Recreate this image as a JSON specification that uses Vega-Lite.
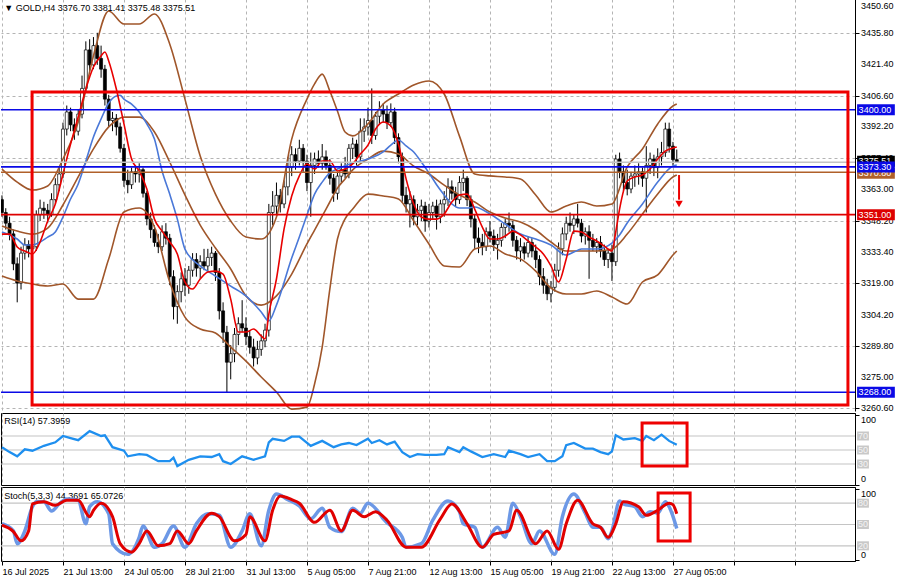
{
"$schema": "https://vega.github.io/schema/vega-lite/v6.json",
"padding": {"left": -6, "top": -2, "right": 0, "bottom": 0},
"background": "white",
"spacing": 2,
"bounds": "flush",
"config": {
  "font": "Liberation Sans",
  "view": {"stroke": "#000", "strokeWidth": 1},
  "scale": {"continuousPadding": 0},
  "axis": {"labelFont": "Liberation Sans", "labelFontSize": 9, "labelColor": "#000", "domainColor": "#000", "tickColor": "#000", "gridColor": "#b4b4b4", "gridDash": [3, 3], "gridWidth": 1, "labelOverlap": false},
  "text": {"font": "Liberation Sans", "fontSize": 9}
},
"datasets": {
  "candles": [
{"i":0,"o":3358,"h":3360,"l":3350,"c":3352},{"i":1,"o":3352,"h":3354,"l":3344,"c":3347},{"i":2,"o":3347,"h":3350,"l":3339,"c":3342},{"i":3,"o":3342,"h":3344,"l":3325,"c":3328},{"i":4,"o":3328,"h":3331,"l":3310,"c":3319},{"i":5,"o":3319,"h":3336,"l":3316,"c":3333},{"i":6,"o":3333,"h":3340,"l":3330,"c":3337},{"i":7,"o":3337,"h":3339,"l":3331,"c":3335},{"i":8,"o":3335,"h":3340,"l":3333,"c":3336},{"i":9,"o":3336,"h":3353,"l":3334,"c":3351},
{"i":10,"o":3351,"h":3358,"l":3348,"c":3354},{"i":11,"o":3354,"h":3357,"l":3349,"c":3353},{"i":12,"o":3353,"h":3356,"l":3347,"c":3351},{"i":13,"o":3351,"h":3361,"l":3350,"c":3358},{"i":14,"o":3358,"h":3368,"l":3356,"c":3365},{"i":15,"o":3365,"h":3373,"l":3362,"c":3370},{"i":16,"o":3370,"h":3394,"l":3368,"c":3391},{"i":17,"o":3391,"h":3402,"l":3388,"c":3399},{"i":18,"o":3399,"h":3401,"l":3390,"c":3393},{"i":19,"o":3393,"h":3396,"l":3386,"c":3390},
{"i":20,"o":3390,"h":3400,"l":3388,"c":3398},{"i":21,"o":3398,"h":3416,"l":3396,"c":3410},{"i":22,"o":3410,"h":3432,"l":3408,"c":3428},{"i":23,"o":3428,"h":3433,"l":3418,"c":3421},{"i":24,"o":3421,"h":3434,"l":3419,"c":3430},{"i":25,"o":3430,"h":3436,"l":3421,"c":3424},{"i":26,"o":3424,"h":3430,"l":3415,"c":3419},{"i":27,"o":3419,"h":3421,"l":3402,"c":3405},{"i":28,"o":3405,"h":3407,"l":3392,"c":3395},{"i":29,"o":3395,"h":3399,"l":3390,"c":3396},
{"i":30,"o":3396,"h":3398,"l":3388,"c":3392},{"i":31,"o":3392,"h":3394,"l":3380,"c":3382},{"i":32,"o":3382,"h":3384,"l":3364,"c":3367},{"i":33,"o":3367,"h":3372,"l":3361,"c":3365},{"i":34,"o":3365,"h":3373,"l":3363,"c":3371},{"i":35,"o":3371,"h":3374,"l":3366,"c":3370},{"i":36,"o":3370,"h":3375,"l":3366,"c":3372},{"i":37,"o":3372,"h":3373,"l":3359,"c":3361},{"i":38,"o":3361,"h":3362,"l":3346,"c":3349},{"i":39,"o":3349,"h":3352,"l":3340,"c":3344},
{"i":40,"o":3344,"h":3346,"l":3336,"c":3338},{"i":41,"o":3338,"h":3342,"l":3333,"c":3336},{"i":42,"o":3336,"h":3346,"l":3334,"c":3343},{"i":43,"o":3343,"h":3347,"l":3337,"c":3340},{"i":44,"o":3340,"h":3342,"l":3318,"c":3322},{"i":45,"o":3322,"h":3325,"l":3302,"c":3308},{"i":46,"o":3308,"h":3318,"l":3300,"c":3315},{"i":47,"o":3315,"h":3324,"l":3310,"c":3321},{"i":48,"o":3321,"h":3326,"l":3313,"c":3318},{"i":49,"o":3318,"h":3327,"l":3314,"c":3325},
{"i":50,"o":3325,"h":3333,"l":3322,"c":3330},{"i":51,"o":3330,"h":3333,"l":3322,"c":3326},{"i":52,"o":3326,"h":3332,"l":3321,"c":3329},{"i":53,"o":3329,"h":3335,"l":3325,"c":3327},{"i":54,"o":3327,"h":3335,"l":3324,"c":3331},{"i":55,"o":3331,"h":3336,"l":3327,"c":3333},{"i":56,"o":3333,"h":3334,"l":3320,"c":3324},{"i":57,"o":3324,"h":3326,"l":3302,"c":3306},{"i":58,"o":3306,"h":3310,"l":3291,"c":3296},{"i":59,"o":3296,"h":3299,"l":3268,"c":3282},
{"i":60,"o":3282,"h":3290,"l":3274,"c":3286},{"i":61,"o":3286,"h":3298,"l":3282,"c":3295},{"i":62,"o":3295,"h":3303,"l":3290,"c":3300},{"i":63,"o":3300,"h":3311,"l":3296,"c":3298},{"i":64,"o":3298,"h":3303,"l":3290,"c":3294},{"i":65,"o":3294,"h":3297,"l":3286,"c":3289},{"i":66,"o":3289,"h":3293,"l":3280,"c":3284},{"i":67,"o":3284,"h":3292,"l":3281,"c":3288},{"i":68,"o":3288,"h":3295,"l":3285,"c":3292},{"i":69,"o":3292,"h":3300,"l":3289,"c":3297},
{"i":70,"o":3297,"h":3356,"l":3294,"c":3352},{"i":71,"o":3352,"h":3362,"l":3346,"c":3355},{"i":72,"o":3355,"h":3366,"l":3351,"c":3360},{"i":73,"o":3360,"h":3363,"l":3352,"c":3356},{"i":74,"o":3356,"h":3367,"l":3354,"c":3364},{"i":75,"o":3364,"h":3378,"l":3360,"c":3373},{"i":76,"o":3373,"h":3383,"l":3369,"c":3379},{"i":77,"o":3379,"h":3382,"l":3372,"c":3376},{"i":78,"o":3376,"h":3386,"l":3374,"c":3382},{"i":79,"o":3382,"h":3384,"l":3371,"c":3376},
{"i":80,"o":3376,"h":3379,"l":3362,"c":3366},{"i":81,"o":3366,"h":3380,"l":3350,"c":3374},{"i":82,"o":3374,"h":3380,"l":3370,"c":3377},{"i":83,"o":3377,"h":3381,"l":3373,"c":3375},{"i":84,"o":3375,"h":3384,"l":3372,"c":3378},{"i":85,"o":3378,"h":3381,"l":3372,"c":3374},{"i":86,"o":3374,"h":3377,"l":3365,"c":3368},{"i":87,"o":3368,"h":3370,"l":3357,"c":3361},{"i":88,"o":3361,"h":3371,"l":3358,"c":3369},{"i":89,"o":3369,"h":3375,"l":3366,"c":3372},
{"i":90,"o":3372,"h":3378,"l":3368,"c":3370},{"i":91,"o":3370,"h":3384,"l":3368,"c":3382},{"i":92,"o":3382,"h":3387,"l":3377,"c":3384},{"i":93,"o":3384,"h":3386,"l":3374,"c":3378},{"i":94,"o":3378,"h":3396,"l":3376,"c":3390},{"i":95,"o":3390,"h":3396,"l":3385,"c":3392},{"i":96,"o":3392,"h":3401,"l":3388,"c":3395},{"i":97,"o":3395,"h":3410,"l":3384,"c":3388},{"i":98,"o":3388,"h":3399,"l":3386,"c":3397},{"i":99,"o":3397,"h":3404,"l":3393,"c":3400},
{"i":100,"o":3400,"h":3403,"l":3394,"c":3398},{"i":101,"o":3398,"h":3402,"l":3391,"c":3394},{"i":102,"o":3394,"h":3403,"l":3392,"c":3399},{"i":103,"o":3399,"h":3401,"l":3384,"c":3387},{"i":104,"o":3387,"h":3389,"l":3375,"c":3378},{"i":105,"o":3378,"h":3380,"l":3357,"c":3360},{"i":106,"o":3360,"h":3364,"l":3352,"c":3356},{"i":107,"o":3356,"h":3362,"l":3345,"c":3358},{"i":108,"o":3358,"h":3360,"l":3346,"c":3350},{"i":109,"o":3350,"h":3356,"l":3346,"c":3353},
{"i":110,"o":3353,"h":3358,"l":3348,"c":3355},{"i":111,"o":3355,"h":3357,"l":3343,"c":3348},{"i":112,"o":3348,"h":3356,"l":3345,"c":3352},{"i":113,"o":3352,"h":3357,"l":3349,"c":3355},{"i":114,"o":3355,"h":3358,"l":3344,"c":3350},{"i":115,"o":3350,"h":3358,"l":3347,"c":3356},{"i":116,"o":3356,"h":3362,"l":3350,"c":3358},{"i":117,"o":3358,"h":3368,"l":3355,"c":3364},{"i":118,"o":3364,"h":3367,"l":3358,"c":3361},{"i":119,"o":3361,"h":3364,"l":3355,"c":3358},
{"i":120,"o":3358,"h":3369,"l":3356,"c":3366},{"i":121,"o":3366,"h":3372,"l":3362,"c":3368},{"i":122,"o":3368,"h":3369,"l":3355,"c":3358},{"i":123,"o":3358,"h":3360,"l":3345,"c":3349},{"i":124,"o":3349,"h":3351,"l":3335,"c":3340},{"i":125,"o":3340,"h":3345,"l":3333,"c":3338},{"i":126,"o":3338,"h":3342,"l":3332,"c":3336},{"i":127,"o":3336,"h":3345,"l":3334,"c":3343},{"i":128,"o":3343,"h":3348,"l":3338,"c":3341},{"i":129,"o":3341,"h":3344,"l":3334,"c":3337},
{"i":130,"o":3337,"h":3342,"l":3330,"c":3339},{"i":131,"o":3339,"h":3347,"l":3336,"c":3345},{"i":132,"o":3345,"h":3349,"l":3340,"c":3347},{"i":133,"o":3347,"h":3352,"l":3343,"c":3346},{"i":134,"o":3346,"h":3348,"l":3336,"c":3339},{"i":135,"o":3339,"h":3341,"l":3330,"c":3334},{"i":136,"o":3334,"h":3340,"l":3329,"c":3336},{"i":137,"o":3336,"h":3338,"l":3330,"c":3333},{"i":138,"o":3333,"h":3341,"l":3331,"c":3338},{"i":139,"o":3338,"h":3340,"l":3331,"c":3334},
{"i":140,"o":3334,"h":3337,"l":3326,"c":3330},{"i":141,"o":3330,"h":3332,"l":3318,"c":3322},{"i":142,"o":3322,"h":3326,"l":3314,"c":3318},{"i":143,"o":3318,"h":3321,"l":3311,"c":3314},{"i":144,"o":3314,"h":3320,"l":3310,"c":3317},{"i":145,"o":3317,"h":3328,"l":3315,"c":3325},{"i":146,"o":3325,"h":3338,"l":3322,"c":3335},{"i":147,"o":3335,"h":3345,"l":3332,"c":3342},{"i":148,"o":3342,"h":3350,"l":3339,"c":3347},{"i":149,"o":3347,"h":3352,"l":3343,"c":3346},
{"i":150,"o":3346,"h":3351,"l":3342,"c":3349},{"i":151,"o":3349,"h":3356,"l":3345,"c":3347},{"i":152,"o":3347,"h":3349,"l":3338,"c":3341},{"i":153,"o":3341,"h":3345,"l":3337,"c":3343},{"i":154,"o":3343,"h":3346,"l":3321,"c":3339},{"i":155,"o":3339,"h":3342,"l":3334,"c":3336},{"i":156,"o":3336,"h":3340,"l":3333,"c":3338},{"i":157,"o":3338,"h":3341,"l":3331,"c":3334},{"i":158,"o":3334,"h":3337,"l":3327,"c":3330},{"i":159,"o":3330,"h":3335,"l":3326,"c":3333},
{"i":160,"o":3333,"h":3337,"l":3320,"c":3329},{"i":161,"o":3329,"h":3379,"l":3327,"c":3377},{"i":162,"o":3377,"h":3380,"l":3368,"c":3371},{"i":163,"o":3371,"h":3374,"l":3362,"c":3366},{"i":164,"o":3366,"h":3372,"l":3360,"c":3363},{"i":165,"o":3363,"h":3371,"l":3361,"c":3369},{"i":166,"o":3369,"h":3374,"l":3364,"c":3370},{"i":167,"o":3370,"h":3375,"l":3365,"c":3371},{"i":168,"o":3371,"h":3373,"l":3364,"c":3368},{"i":169,"o":3368,"h":3383,"l":3352,"c":3374},
{"i":170,"o":3374,"h":3380,"l":3370,"c":3377},{"i":171,"o":3377,"h":3379,"l":3369,"c":3373},{"i":172,"o":3373,"h":3382,"l":3368,"c":3378},{"i":173,"o":3378,"h":3385,"l":3374,"c":3380},{"i":174,"o":3380,"h":3394,"l":3378,"c":3391},{"i":175,"o":3391,"h":3394,"l":3380,"c":3383},{"i":176,"o":3383,"h":3385,"l":3374,"c":3376.7},{"i":177,"o":3376.7,"h":3381.41,"l":3375.48,"c":3375.51}
  ],
  "bb": [
{"i":0,"u":3372.3,"m":3345.7,"lo":3322.3},{"i":4,"u":3366.2,"m":3343.3,"lo":3320.0},{"i":8,"u":3362.5,"m":3341.9,"lo":3318.6},{"i":12,"u":3364.4,"m":3344.7,"lo":3317.6},{"i":16,"u":3377.0,"m":3355.5,"lo":3318.6},{"i":20,"u":3394.3,"m":3368.6,"lo":3311.5},{"i":24,"u":3425.2,"m":3381.7,"lo":3311.5},{"i":28,"u":3446.2,"m":3392.0,"lo":3330.3},{"i":32,"u":3440.1,"m":3396.6,"lo":3352.2},{"i":36,"u":3440.1,"m":3396.6,"lo":3354.1},{"i":40,"u":3444.8,"m":3389.6,"lo":3345.2},{"i":44,"u":3430.8,"m":3375.6,"lo":3319.5},{"i":48,"u":3405.0,"m":3360.2,"lo":3303.1},{"i":52,"u":3378.4,"m":3346.1,"lo":3297.5},{"i":56,"u":3360.6,"m":3335.4,"lo":3295.7},{"i":60,"u":3348.0,"m":3325.6,"lo":3289.1},{"i":64,"u":3340.5,"m":3313.0,"lo":3282.5},{"i":68,"u":3339.6,"m":3308.7,"lo":3275.1},{"i":72,"u":3349.9,"m":3313.0,"lo":3268.1},{"i":76,"u":3386.3,"m":3323.2,"lo":3260.1},{"i":80,"u":3405.0,"m":3337.3,"lo":3261.0},{"i":82,"u":3412.1,"m":3343.8,"lo":3271.8},{"i":84,"u":3416.7,"m":3350.3,"lo":3289.1},{"i":86,"u":3408.8,"m":3356.9,"lo":3316.2},{"i":88,"u":3399.4,"m":3363.4,"lo":3339.6},{"i":90,"u":3389.6,"m":3367.7,"lo":3349.0},{"i":92,"u":3387.8,"m":3371.9,"lo":3353.6},{"i":96,"u":3393.4,"m":3377.0,"lo":3360.6},{"i":100,"u":3402.7,"m":3380.7,"lo":3359.7},{"i":104,"u":3407.4,"m":3379.3,"lo":3358.3},{"i":108,"u":3411.6,"m":3373.7,"lo":3348.0},{"i":112,"u":3413.5,"m":3370.0,"lo":3337.3},{"i":116,"u":3407.4,"m":3364.8,"lo":3327.0},{"i":120,"u":3387.7,"m":3360.2,"lo":3326.5},{"i":124,"u":3370.0,"m":3356.9,"lo":3334.9},{"i":128,"u":3369.1,"m":3352.2,"lo":3336.3},{"i":132,"u":3368.6,"m":3349.4,"lo":3332.6},{"i":136,"u":3367.7,"m":3347.5,"lo":3330.3},{"i":140,"u":3360.2,"m":3343.8,"lo":3324.6},{"i":144,"u":3352.2,"m":3338.2,"lo":3316.7},{"i":148,"u":3355.0,"m":3334.0,"lo":3313.9},{"i":152,"u":3356.9,"m":3334.0,"lo":3313.9},{"i":156,"u":3355.0,"m":3334.0,"lo":3315.3},{"i":160,"u":3356.0,"m":3334.9,"lo":3312.5},{"i":164,"u":3373.3,"m":3341.9,"lo":3309.2},{"i":168,"u":3381.7,"m":3351.3,"lo":3319.5},{"i":172,"u":3393.4,"m":3360.6,"lo":3322.8},{"i":176,"u":3401.8,"m":3368.6,"lo":3332.1},{"i":177,"u":3402.7,"m":3369.5,"lo":3334.0}
  ],
  "red": [
{"i":0,"v":3341.9},{"i":2,"v":3341.9},{"i":4,"v":3335.9},{"i":6,"v":3334.0},{"i":8,"v":3332.6},{"i":10,"v":3338.2},{"i":12,"v":3348.0},{"i":14,"v":3356.0},{"i":16,"v":3370.0},{"i":18,"v":3384.0},{"i":20,"v":3396.6},{"i":22,"v":3409.7},{"i":24,"v":3420.0},{"i":26,"v":3425.2},{"i":27,"v":3427.0},{"i":28,"v":3422.8},{"i":30,"v":3409.7},{"i":32,"v":3393.4},{"i":34,"v":3377.0},{"i":36,"v":3371.4},{"i":38,"v":3363.0},{"i":40,"v":3348.9},{"i":42,"v":3343.3},{"i":44,"v":3338.2},{"i":46,"v":3332.6},{"i":48,"v":3319.5},{"i":50,"v":3316.2},{"i":52,"v":3320.9},{"i":54,"v":3324.2},{"i":56,"v":3324.6},{"i":58,"v":3323.2},{"i":60,"v":3311.5},{"i":62,"v":3296.1},{"i":64,"v":3296.1},{"i":66,"v":3297.5},{"i":68,"v":3294.3},{"i":69,"v":3292.9},{"i":70,"v":3304.5},{"i":72,"v":3320.9},{"i":74,"v":3344.3},{"i":76,"v":3359.7},{"i":78,"v":3369.1},{"i":80,"v":3374.7},{"i":82,"v":3372.3},{"i":84,"v":3376.1},{"i":86,"v":3376.1},{"i":88,"v":3371.4},{"i":90,"v":3372.3},{"i":92,"v":3374.7},{"i":94,"v":3379.3},{"i":96,"v":3383.5},{"i":98,"v":3391.0},{"i":100,"v":3394.3},{"i":102,"v":3392.4},{"i":104,"v":3384.0},{"i":106,"v":3367.7},{"i":108,"v":3356.0},{"i":110,"v":3349.9},{"i":112,"v":3348.9},{"i":114,"v":3348.9},{"i":116,"v":3351.3},{"i":118,"v":3356.9},{"i":120,"v":3360.2},{"i":122,"v":3360.6},{"i":124,"v":3353.6},{"i":126,"v":3345.2},{"i":128,"v":3339.6},{"i":130,"v":3339.6},{"i":132,"v":3341.0},{"i":134,"v":3343.3},{"i":136,"v":3341.5},{"i":138,"v":3338.7},{"i":140,"v":3335.9},{"i":142,"v":3332.6},{"i":144,"v":3327.0},{"i":146,"v":3319.5},{"i":148,"v":3330.3},{"i":150,"v":3343.3},{"i":152,"v":3342.9},{"i":154,"v":3340.5},{"i":156,"v":3338.7},{"i":158,"v":3336.3},{"i":160,"v":3334.0},{"i":161,"v":3342.9},{"i":162,"v":3353.6},{"i":164,"v":3366.7},{"i":166,"v":3368.6},{"i":168,"v":3369.5},{"i":170,"v":3372.3},{"i":172,"v":3377.0},{"i":174,"v":3380.7},{"i":176,"v":3382.1},{"i":177,"v":3382.6}
  ],
  "blue": [
{"i":0,"v":3342.9},{"i":4,"v":3339.6},{"i":6,"v":3336.8},{"i":8,"v":3336.8},{"i":10,"v":3338.2},{"i":12,"v":3340.5},{"i":14,"v":3342.9},{"i":16,"v":3349.9},{"i":18,"v":3358.3},{"i":20,"v":3365.3},{"i":22,"v":3376.0},{"i":24,"v":3387.3},{"i":26,"v":3395.7},{"i":28,"v":3403.2},{"i":30,"v":3406.5},{"i":31,"v":3406.8},{"i":32,"v":3405.0},{"i":34,"v":3402.7},{"i":36,"v":3399.0},{"i":38,"v":3393.4},{"i":40,"v":3386.3},{"i":42,"v":3371.4},{"i":44,"v":3360.6},{"i":46,"v":3348.9},{"i":48,"v":3334.9},{"i":52,"v":3327.0},{"i":56,"v":3322.3},{"i":60,"v":3317.6},{"i":64,"v":3313.0},{"i":68,"v":3305.5},{"i":70,"v":3301.3},{"i":72,"v":3308.7},{"i":76,"v":3330.7},{"i":78,"v":3340.5},{"i":80,"v":3350.8},{"i":82,"v":3360.6},{"i":84,"v":3366.2},{"i":86,"v":3370.5},{"i":88,"v":3372.3},{"i":92,"v":3375.1},{"i":96,"v":3377.0},{"i":100,"v":3380.3},{"i":102,"v":3383.5},{"i":104,"v":3385.9},{"i":106,"v":3383.1},{"i":108,"v":3380.3},{"i":110,"v":3375.6},{"i":112,"v":3370.5},{"i":114,"v":3365.0},{"i":116,"v":3360.2},{"i":118,"v":3356.0},{"i":120,"v":3354.1},{"i":122,"v":3354.1},{"i":124,"v":3354.6},{"i":128,"v":3351.3},{"i":132,"v":3346.6},{"i":136,"v":3341.9},{"i":140,"v":3339.6},{"i":144,"v":3336.8},{"i":148,"v":3332.1},{"i":150,"v":3333.5},{"i":152,"v":3334.9},{"i":156,"v":3334.9},{"i":160,"v":3337.7},{"i":162,"v":3341.5},{"i":164,"v":3347.1},{"i":168,"v":3356.0},{"i":172,"v":3366.2},{"i":176,"v":3373.7},{"i":177,"v":3374.2}
  ],
  "hl": [
{"p":3400,"kind":"blue"},{"p":3375.51,"kind":"gray"},{"p":3373.3,"kind":"blue"},{"p":3370.8,"kind":"brown"},{"p":3351,"kind":"red"},{"p":3268,"kind":"blue"}
  ],
  "ylab": [
{"p":3260.6,"t":"3260.60"},{"p":3275,"t":"3275.00"},{"p":3289.8,"t":"3289.80"},{"p":3304.2,"t":"3304.20"},{"p":3319,"t":"3319.00"},{"p":3333.4,"t":"3333.40"},{"p":3348.2,"t":"3348.20"},{"p":3363,"t":"3363.00"},{"p":3377.4,"t":"3377.40"},{"p":3392.2,"t":"3392.20"},{"p":3406.6,"t":"3406.60"},{"p":3421.4,"t":"3421.40"},{"p":3435.8,"t":"3435.80"},{"p":3450.6,"t":"3450.60"}
  ],
  "tags": [
{"p":3375.9,"t":"3375.51","kind":"black","grp":"under"},{"p":3370.4,"t":"3370.80","kind":"brown","grp":"under"},{"p":3373.3,"t":"3373.30","kind":"blue","grp":"top"},{"p":3400,"t":"3400.00","kind":"blue","grp":"top"},{"p":3351,"t":"3351.00","kind":"red","grp":"top"},{"p":3268,"t":"3268.00","kind":"blue","grp":"top"}
  ],
  "box": [{"x1":7.9,"x2":221.9,"y1":3262.0,"y2":3408.3}],
  "arrow": [{"i":177.6,"top":3369.5,"bot":3358.0,"head":3356.0}],
  "edge": [{"i":235.8}],
  "titles": [{"i":0.6,"p":3447.8,"t":"▼ GOLD,H4  3376.70 3381.41 3375.48 3375.51"}],
  "rsi": [
{"i":0,"v":54},{"i":2,"v":47},{"i":4,"v":41},{"i":6,"v":51},{"i":8,"v":49},{"i":11,"v":56},{"i":14,"v":61},{"i":16,"v":70},{"i":18,"v":67},{"i":20,"v":64},{"i":23,"v":77},{"i":26,"v":70},{"i":27,"v":71},{"i":29,"v":54},{"i":32,"v":49},{"i":33,"v":41},{"i":36,"v":44},{"i":38,"v":43},{"i":41,"v":34},{"i":44,"v":34},{"i":45,"v":39},{"i":46,"v":27},{"i":49,"v":36},{"i":52,"v":41},{"i":55,"v":40},{"i":57,"v":44},{"i":58,"v":34},{"i":60,"v":30},{"i":63,"v":41},{"i":66,"v":36},{"i":69,"v":41},{"i":70,"v":61},{"i":71,"v":66},{"i":74,"v":63},{"i":76,"v":69},{"i":78,"v":69},{"i":81,"v":56},{"i":84,"v":63},{"i":87,"v":54},{"i":89,"v":58},{"i":91,"v":60},{"i":93,"v":57},{"i":96,"v":66},{"i":97,"v":60},{"i":99,"v":64},{"i":101,"v":58},{"i":103,"v":62},{"i":105,"v":47},{"i":107,"v":40},{"i":109,"v":44},{"i":111,"v":43},{"i":114,"v":43},{"i":116,"v":44},{"i":117,"v":54},{"i":120,"v":47},{"i":121,"v":54},{"i":123,"v":48},{"i":126,"v":40},{"i":129,"v":44},{"i":132,"v":40},{"i":133,"v":49},{"i":136,"v":44},{"i":138,"v":40},{"i":141,"v":44},{"i":143,"v":34},{"i":145,"v":34},{"i":147,"v":41},{"i":148,"v":57},{"i":150,"v":60},{"i":153,"v":52},{"i":155,"v":52},{"i":157,"v":47},{"i":159,"v":44},{"i":160,"v":48},{"i":161,"v":71},{"i":163,"v":65},{"i":166,"v":67},{"i":168,"v":63},{"i":169,"v":70},{"i":171,"v":64},{"i":173,"v":72},{"i":175,"v":63},{"i":177,"v":57.4}
  ],
  "rsilev": [{"lv":70,"t":"70"},{"lv":50,"t":"50"},{"lv":30,"t":"30"}],
  "rsiends": [{"v":92.9,"t":"100"},{"v":8.6,"t":"0"}],
  "rsibox": [{"x1":167.9,"x2":179.7,"y1":27.1,"y2":88.6}],
  "rsititle": [{"i":0.6,"v":91.4,"t":"RSI(14) 57.3959"}],
  "k": [
{"i":0,"v":51},{"i":3,"v":41},{"i":4,"v":23},{"i":6,"v":41},{"i":8,"v":75},{"i":9,"v":82},{"i":11,"v":82},{"i":13,"v":69},{"i":15,"v":79},{"i":17,"v":86},{"i":20,"v":84},{"i":22,"v":51},{"i":23,"v":75},{"i":25,"v":82},{"i":28,"v":65},{"i":29,"v":23},{"i":33,"v":8},{"i":36,"v":32},{"i":37,"v":48},{"i":40,"v":18},{"i":42,"v":23},{"i":45,"v":48},{"i":48,"v":18},{"i":51,"v":51},{"i":54,"v":65},{"i":57,"v":63},{"i":60,"v":18},{"i":63,"v":41},{"i":65,"v":65},{"i":68,"v":20},{"i":70,"v":70},{"i":72,"v":93},{"i":75,"v":85},{"i":78,"v":76},{"i":81,"v":58},{"i":84,"v":73},{"i":86,"v":46},{"i":89,"v":40},{"i":92,"v":73},{"i":94,"v":66},{"i":96,"v":80},{"i":99,"v":66},{"i":100,"v":58},{"i":105,"v":32},{"i":106,"v":18},{"i":110,"v":23},{"i":113,"v":56},{"i":117,"v":83},{"i":120,"v":68},{"i":121,"v":51},{"i":124,"v":46},{"i":126,"v":18},{"i":130,"v":46},{"i":132,"v":32},{"i":134,"v":80},{"i":136,"v":61},{"i":139,"v":23},{"i":141,"v":41},{"i":145,"v":8},{"i":147,"v":61},{"i":150,"v":93},{"i":153,"v":66},{"i":155,"v":46},{"i":157,"v":46},{"i":159,"v":30},{"i":160,"v":41},{"i":162,"v":83},{"i":163,"v":79},{"i":166,"v":75},{"i":168,"v":61},{"i":170,"v":68},{"i":172,"v":66},{"i":174,"v":82},{"i":175,"v":75},{"i":177,"v":44.4}
  ],
  "d": [
{"i":0,"v":49},{"i":3,"v":40},{"i":5,"v":27},{"i":7,"v":41},{"i":8,"v":79},{"i":11,"v":82},{"i":14,"v":77},{"i":17,"v":84},{"i":20,"v":84},{"i":23,"v":61},{"i":24,"v":70},{"i":26,"v":80},{"i":29,"v":61},{"i":31,"v":23},{"i":34,"v":11},{"i":36,"v":23},{"i":38,"v":41},{"i":41,"v":20},{"i":44,"v":23},{"i":46,"v":41},{"i":49,"v":23},{"i":51,"v":41},{"i":55,"v":66},{"i":57,"v":61},{"i":61,"v":27},{"i":64,"v":36},{"i":65,"v":61},{"i":69,"v":27},{"i":71,"v":70},{"i":73,"v":90},{"i":76,"v":85},{"i":78,"v":80},{"i":82,"v":53},{"i":86,"v":70},{"i":89,"v":41},{"i":92,"v":70},{"i":95,"v":61},{"i":98,"v":68},{"i":101,"v":56},{"i":106,"v":18},{"i":110,"v":18},{"i":115,"v":58},{"i":118,"v":79},{"i":122,"v":51},{"i":126,"v":18},{"i":129,"v":36},{"i":133,"v":41},{"i":135,"v":70},{"i":140,"v":23},{"i":143,"v":41},{"i":146,"v":15},{"i":148,"v":51},{"i":151,"v":84},{"i":155,"v":51},{"i":157,"v":46},{"i":159,"v":32},{"i":161,"v":51},{"i":163,"v":82},{"i":167,"v":75},{"i":169,"v":63},{"i":172,"v":70},{"i":175,"v":80},{"i":176,"v":78},{"i":177,"v":65.1}
  ],
  "stlev": [{"lv":80,"t":"80"},{"lv":50,"t":"50"},{"lv":20,"t":"20"}],
  "stends": [{"v":92.9,"t":"100"},{"v":7.0,"t":"0"}],
  "stbox": [{"x1":172.1,"x2":180.5,"y1":26.8,"y2":94.4}],
  "sttitle": [{"i":0.6,"v":90.1,"t":"Stoch(5,3,3) 44.3691 65.0726"}]
},
"vconcat": [
{
  "width": 854, "height": 412,
  "view": {"stroke": null},
  "layer": [
    {"data": {"name": "candles"}, "mark": {"type": "rule", "color": "#000", "strokeWidth": 1, "clip": true},
     "encoding": {
       "x": {"field": "i", "type": "quantitative", "scale": {"domain": [-0.25, 223.75], "nice": false, "zero": false, "padding": 0},
             "axis": {"values": [0,8,16,24,32,40,48,56,64,72,80,88,96,104,112,120,128,136,144,152,160,168,176,184,192,200,208,216], "labels": false, "ticks": false, "domain": false, "grid": true, "title": null}},
       "y": {"field": "l", "type": "quantitative", "scale": {"domain": [3259.2, 3451.8], "nice": false, "zero": false, "padding": 0},
             "axis": {"orient": "right", "title": null, "values": [3260.6,3275,3289.8,3304.2,3319,3333.4,3348.2,3363,3377.4,3392.2,3406.6,3421.4,3435.8,3450.6], "labels": false, "grid": true, "tickSize": 4, "domain": true}},
       "y2": {"field": "h"}
     }},
    {"data": {"name": "candles"}, "mark": {"type": "bar", "size": 3, "stroke": "#000", "strokeWidth": 0.7, "clip": true},
     "encoding": {
       "x": {"field": "i", "type": "quantitative", "scale": {"domain": [-0.25, 223.75], "nice": false, "zero": false, "padding": 0}},
       "y": {"field": "o", "type": "quantitative", "scale": {"domain": [3259.2, 3451.8], "nice": false, "zero": false, "padding": 0}},
       "y2": {"field": "c"},
       "fill": {"condition": {"test": "datum.c >= datum.o", "value": "#ffffff"}, "value": "#000000"}
     }},
    {"data": {"name": "bb"}, "mark": {"type": "line", "color": "#a0562a", "strokeWidth": 1.6, "interpolate": "monotone", "clip": true},
     "encoding": {"x": {"field": "i", "type": "quantitative", "scale": {"domain": [-0.25, 223.75], "nice": false, "zero": false, "padding": 0}},
                  "y": {"field": "u", "type": "quantitative", "scale": {"domain": [3259.2, 3451.8], "nice": false, "zero": false, "padding": 0}}}},
    {"data": {"name": "bb"}, "mark": {"type": "line", "color": "#a0562a", "strokeWidth": 1.6, "interpolate": "monotone", "clip": true},
     "encoding": {"x": {"field": "i", "type": "quantitative", "scale": {"domain": [-0.25, 223.75], "nice": false, "zero": false, "padding": 0}},
                  "y": {"field": "m", "type": "quantitative", "scale": {"domain": [3259.2, 3451.8], "nice": false, "zero": false, "padding": 0}}}},
    {"data": {"name": "bb"}, "mark": {"type": "line", "color": "#a0562a", "strokeWidth": 1.6, "interpolate": "monotone", "clip": true},
     "encoding": {"x": {"field": "i", "type": "quantitative", "scale": {"domain": [-0.25, 223.75], "nice": false, "zero": false, "padding": 0}},
                  "y": {"field": "lo", "type": "quantitative", "scale": {"domain": [3259.2, 3451.8], "nice": false, "zero": false, "padding": 0}}}},
    {"data": {"name": "blue"}, "mark": {"type": "line", "color": "#4a78d8", "strokeWidth": 1.6, "interpolate": "monotone", "clip": true},
     "encoding": {"x": {"field": "i", "type": "quantitative", "scale": {"domain": [-0.25, 223.75], "nice": false, "zero": false, "padding": 0}},
                  "y": {"field": "v", "type": "quantitative", "scale": {"domain": [3259.2, 3451.8], "nice": false, "zero": false, "padding": 0}}}},
    {"data": {"name": "red"}, "mark": {"type": "line", "color": "#e80000", "strokeWidth": 1.6, "interpolate": "monotone", "clip": true},
     "encoding": {"x": {"field": "i", "type": "quantitative", "scale": {"domain": [-0.25, 223.75], "nice": false, "zero": false, "padding": 0}},
                  "y": {"field": "v", "type": "quantitative", "scale": {"domain": [3259.2, 3451.8], "nice": false, "zero": false, "padding": 0}}}},
    {"data": {"name": "hl"}, "mark": {"type": "rule", "strokeWidth": 1.6},
     "encoding": {"y": {"field": "p", "type": "quantitative", "scale": {"domain": [3259.2, 3451.8], "nice": false, "zero": false, "padding": 0}},
                  "color": {"field": "kind", "type": "nominal", "legend": null, "scale": {"domain": ["blue","gray","brown","red","black"], "range": ["#0a0ae6","#c4c4c4","#b0602a","#dd0000","#000000"]}}}},
    {"data": {"name": "box"}, "mark": {"type": "rect", "filled": false, "stroke": "#ee0000", "strokeWidth": 3},
     "encoding": {"x": {"field": "x1", "type": "quantitative", "scale": {"domain": [-0.25, 223.75], "nice": false, "zero": false, "padding": 0}}, "x2": {"field": "x2"},
                  "y": {"field": "y1", "type": "quantitative", "scale": {"domain": [3259.2, 3451.8], "nice": false, "zero": false, "padding": 0}}, "y2": {"field": "y2"}}},
    {"data": {"name": "arrow"}, "mark": {"type": "rule", "color": "#ee0000", "strokeWidth": 2},
     "encoding": {"x": {"field": "i", "type": "quantitative", "scale": {"domain": [-0.25, 223.75], "nice": false, "zero": false, "padding": 0}},
                  "y": {"field": "top", "type": "quantitative", "scale": {"domain": [3259.2, 3451.8], "nice": false, "zero": false, "padding": 0}}, "y2": {"field": "bot"}}},
    {"data": {"name": "arrow"}, "mark": {"type": "point", "shape": "triangle-down", "filled": true, "color": "#ee0000", "size": 55, "opacity": 1},
     "encoding": {"x": {"field": "i", "type": "quantitative", "scale": {"domain": [-0.25, 223.75], "nice": false, "zero": false, "padding": 0}},
                  "y": {"field": "head", "type": "quantitative", "scale": {"domain": [3259.2, 3451.8], "nice": false, "zero": false, "padding": 0}}}},
    {"data": {"name": "edge"}, "mark": {"type": "rule", "color": "#e6e6e6", "strokeWidth": 0.5},
     "encoding": {"x": {"field": "i", "type": "quantitative", "scale": {"domain": [-0.25, 223.75], "nice": false, "zero": false, "padding": 0}}}},
    {"data": {"name": "ylab"}, "transform": [{"filter": "datum.p < 3450"}], "mark": {"type": "text", "align": "left", "baseline": "middle", "color": "#000", "fontSize": 9},
     "encoding": {"x": {"datum": 225.3, "type": "quantitative", "scale": {"domain": [-0.25, 223.75], "nice": false, "zero": false, "padding": 0}},
                  "y": {"field": "p", "type": "quantitative", "scale": {"domain": [3259.2, 3451.8], "nice": false, "zero": false, "padding": 0}},
                  "text": {"field": "t"}}},
    {"data": {"name": "ylab"}, "transform": [{"filter": "datum.p > 3450"}], "mark": {"type": "text", "align": "left", "baseline": "top", "color": "#000", "fontSize": 9},
     "encoding": {"x": {"datum": 225.3, "type": "quantitative", "scale": {"domain": [-0.25, 223.75], "nice": false, "zero": false, "padding": 0}},
                  "y": {"field": "p", "type": "quantitative", "scale": {"domain": [3259.2, 3451.8], "nice": false, "zero": false, "padding": 0}},
                  "text": {"field": "t"}}},
    {"data": {"name": "tags"}, "transform": [{"filter": "datum.grp == 'under'"}], "mark": {"type": "bar", "size": 11},
     "encoding": {"x": {"datum": 224.3, "type": "quantitative", "scale": {"domain": [-0.25, 223.75], "nice": false, "zero": false, "padding": 0}}, "x2": {"datum": 234.2},
                  "y": {"field": "p", "type": "quantitative", "scale": {"domain": [3259.2, 3451.8], "nice": false, "zero": false, "padding": 0}},
                  "color": {"field": "kind", "type": "nominal", "legend": null}}},
    {"data": {"name": "tags"}, "transform": [{"filter": "datum.grp == 'under'"}], "mark": {"type": "text", "align": "left", "baseline": "middle", "color": "#ffffff", "fontSize": 9},
     "encoding": {"x": {"datum": 224.7, "type": "quantitative", "scale": {"domain": [-0.25, 223.75], "nice": false, "zero": false, "padding": 0}},
                  "y": {"field": "p", "type": "quantitative", "scale": {"domain": [3259.2, 3451.8], "nice": false, "zero": false, "padding": 0}},
                  "text": {"field": "t"}}},
    {"data": {"name": "tags"}, "transform": [{"filter": "datum.grp == 'top'"}], "mark": {"type": "bar", "size": 11},
     "encoding": {"x": {"datum": 224.3, "type": "quantitative", "scale": {"domain": [-0.25, 223.75], "nice": false, "zero": false, "padding": 0}}, "x2": {"datum": 234.2},
                  "y": {"field": "p", "type": "quantitative", "scale": {"domain": [3259.2, 3451.8], "nice": false, "zero": false, "padding": 0}},
                  "color": {"field": "kind", "type": "nominal", "legend": null}}},
    {"data": {"name": "tags"}, "transform": [{"filter": "datum.grp == 'top'"}], "mark": {"type": "text", "align": "left", "baseline": "middle", "color": "#ffffff", "fontSize": 9},
     "encoding": {"x": {"datum": 224.7, "type": "quantitative", "scale": {"domain": [-0.25, 223.75], "nice": false, "zero": false, "padding": 0}},
                  "y": {"field": "p", "type": "quantitative", "scale": {"domain": [3259.2, 3451.8], "nice": false, "zero": false, "padding": 0}},
                  "text": {"field": "t"}}},
    {"data": {"name": "titles"}, "mark": {"type": "text", "align": "left", "baseline": "middle", "color": "#000", "fontSize": 9},
     "encoding": {"x": {"field": "i", "type": "quantitative", "scale": {"domain": [-0.25, 223.75], "nice": false, "zero": false, "padding": 0}},
                  "y": {"field": "p", "type": "quantitative", "scale": {"domain": [3259.2, 3451.8], "nice": false, "zero": false, "padding": 0}},
                  "text": {"field": "t"}}}
  ]
},
{
  "width": 854, "height": 72,
  "layer": [
    {"data": {"name": "rsilev"}, "mark": {"type": "rule", "color": "#c4c4c4", "strokeWidth": 1.2},
     "encoding": {"y": {"field": "lv", "type": "quantitative", "scale": {"domain": [0, 102.86], "nice": false, "zero": false, "padding": 0}}}},
    {"data": {"name": "rsititle"}, "mark": {"type": "text", "align": "left", "baseline": "middle", "color": "#000", "fontSize": 9},
     "encoding": {"x": {"field": "i", "type": "quantitative", "scale": {"domain": [-0.25, 223.75], "nice": false, "zero": false, "padding": 0}},
                  "y": {"field": "v", "type": "quantitative", "scale": {"domain": [0, 102.86], "nice": false, "zero": false, "padding": 0}},
                  "text": {"field": "t"}}},
    {"data": {"name": "rsi"}, "mark": {"type": "line", "color": "#1e8fef", "strokeWidth": 2.3},
     "encoding": {
       "x": {"field": "i", "type": "quantitative", "scale": {"domain": [-0.25, 223.75], "nice": false, "zero": false, "padding": 0},
             "axis": {"values": [0,8,16,24,32,40,48,56,64,72,80,88,96,104,112,120,128,136,144,152,160,168,176,184,192,200,208,216], "labels": false, "ticks": false, "domain": false, "grid": true, "title": null}},
       "y": {"field": "v", "type": "quantitative", "scale": {"domain": [0, 102.86], "nice": false, "zero": false, "padding": 0},
             "axis": {"orient": "right", "title": null, "values": [0, 100], "labels": false, "grid": false, "domain": true, "tickSize": 4}}
     }},
    {"data": {"name": "rsibox"}, "mark": {"type": "rect", "filled": false, "stroke": "#ee0000", "strokeWidth": 3},
     "encoding": {"x": {"field": "x1", "type": "quantitative", "scale": {"domain": [-0.25, 223.75], "nice": false, "zero": false, "padding": 0}}, "x2": {"field": "x2"},
                  "y": {"field": "y1", "type": "quantitative", "scale": {"domain": [0, 102.86], "nice": false, "zero": false, "padding": 0}}, "y2": {"field": "y2"}}},
    {"data": {"name": "rsilev"}, "mark": {"type": "bar", "size": 9, "color": "#c8c8c8"},
     "encoding": {"x": {"datum": 224.3, "type": "quantitative", "scale": {"domain": [-0.25, 223.75], "nice": false, "zero": false, "padding": 0}}, "x2": {"datum": 227.4},
                  "y": {"field": "lv", "type": "quantitative", "scale": {"domain": [0, 102.86], "nice": false, "zero": false, "padding": 0}}}},
    {"data": {"name": "rsilev"}, "mark": {"type": "text", "align": "center", "baseline": "middle", "color": "#f4f4f4", "fontSize": 9},
     "encoding": {"x": {"datum": 225.85, "type": "quantitative", "scale": {"domain": [-0.25, 223.75], "nice": false, "zero": false, "padding": 0}},
                  "y": {"field": "lv", "type": "quantitative", "scale": {"domain": [0, 102.86], "nice": false, "zero": false, "padding": 0}},
                  "text": {"field": "t"}}},
    {"data": {"name": "rsiends"}, "mark": {"type": "text", "align": "left", "baseline": "middle", "color": "#000", "fontSize": 9},
     "encoding": {"x": {"datum": 225.3, "type": "quantitative", "scale": {"domain": [-0.25, 223.75], "nice": false, "zero": false, "padding": 0}},
                  "y": {"field": "v", "type": "quantitative", "scale": {"domain": [0, 102.86], "nice": false, "zero": false, "padding": 0}},
                  "text": {"field": "t"}}}
  ]
},
{
  "width": 854, "height": 74,
  "layer": [
    {"data": {"name": "stlev"}, "mark": {"type": "rule", "color": "#c4c4c4", "strokeWidth": 1.2},
     "encoding": {"y": {"field": "lv", "type": "quantitative", "scale": {"domain": [-1.4, 102.8], "nice": false, "zero": false, "padding": 0}}}},
    {"data": {"name": "sttitle"}, "mark": {"type": "text", "align": "left", "baseline": "middle", "color": "#000", "fontSize": 9},
     "encoding": {"x": {"field": "i", "type": "quantitative", "scale": {"domain": [-0.25, 223.75], "nice": false, "zero": false, "padding": 0}},
                  "y": {"field": "v", "type": "quantitative", "scale": {"domain": [-1.4, 102.8], "nice": false, "zero": false, "padding": 0}},
                  "text": {"field": "t"}}},
    {"data": {"name": "k"}, "mark": {"type": "line", "color": "#6c98e6", "strokeWidth": 3.5, "interpolate": "monotone"},
     "encoding": {
       "x": {"field": "i", "type": "quantitative", "scale": {"domain": [-0.25, 223.75], "nice": false, "zero": false, "padding": 0},
             "axis": {"values": [0,8,16,24,32,40,48,56,64,72,80,88,96,104,112,120,128,136,144,152,160,168,176,184,192,200,208,216], "title": null, "grid": true, "domain": false, "tickSize": 4, "labelAlign": "left", "labelPadding": 2, "labelFontSize": 9, "labelFlush": false, "labelOverlap": false,
                      "labelExpr": "datum.value==0?'16 Jul 2025':datum.value==16?'21 Jul 13:00':datum.value==32?'24 Jul 05:00':datum.value==48?'28 Jul 21:00':datum.value==64?'31 Jul 13:00':datum.value==80?'5 Aug 05:00':datum.value==96?'7 Aug 21:00':datum.value==112?'12 Aug 13:00':datum.value==128?'15 Aug 05:00':datum.value==144?'19 Aug 21:00':datum.value==160?'22 Aug 13:00':datum.value==176?'27 Aug 05:00':''",
                      "encode": {"ticks": {"update": {"opacity": {"signal": "datum.value % 16 == 0 ? 1 : 0"}}}}}},
       "y": {"field": "v", "type": "quantitative", "scale": {"domain": [-1.4, 102.8], "nice": false, "zero": false, "padding": 0},
             "axis": {"orient": "right", "title": null, "values": [0, 100], "labels": false, "grid": false, "domain": true, "tickSize": 4}}
     }},
    {"data": {"name": "d"}, "mark": {"type": "line", "color": "#e00000", "strokeWidth": 3, "interpolate": "monotone"},
     "encoding": {"x": {"field": "i", "type": "quantitative", "scale": {"domain": [-0.25, 223.75], "nice": false, "zero": false, "padding": 0}},
                  "y": {"field": "v", "type": "quantitative", "scale": {"domain": [-1.4, 102.8], "nice": false, "zero": false, "padding": 0}}}},
    {"data": {"name": "stbox"}, "mark": {"type": "rect", "filled": false, "stroke": "#ee0000", "strokeWidth": 3},
     "encoding": {"x": {"field": "x1", "type": "quantitative", "scale": {"domain": [-0.25, 223.75], "nice": false, "zero": false, "padding": 0}}, "x2": {"field": "x2"},
                  "y": {"field": "y1", "type": "quantitative", "scale": {"domain": [-1.4, 102.8], "nice": false, "zero": false, "padding": 0}}, "y2": {"field": "y2"}}},
    {"data": {"name": "stlev"}, "mark": {"type": "bar", "size": 9, "color": "#c8c8c8"},
     "encoding": {"x": {"datum": 224.3, "type": "quantitative", "scale": {"domain": [-0.25, 223.75], "nice": false, "zero": false, "padding": 0}}, "x2": {"datum": 227.4},
                  "y": {"field": "lv", "type": "quantitative", "scale": {"domain": [-1.4, 102.8], "nice": false, "zero": false, "padding": 0}}}},
    {"data": {"name": "stlev"}, "mark": {"type": "text", "align": "center", "baseline": "middle", "color": "#f4f4f4", "fontSize": 9},
     "encoding": {"x": {"datum": 225.85, "type": "quantitative", "scale": {"domain": [-0.25, 223.75], "nice": false, "zero": false, "padding": 0}},
                  "y": {"field": "lv", "type": "quantitative", "scale": {"domain": [-1.4, 102.8], "nice": false, "zero": false, "padding": 0}},
                  "text": {"field": "t"}}},
    {"data": {"name": "stends"}, "mark": {"type": "text", "align": "left", "baseline": "middle", "color": "#000", "fontSize": 9},
     "encoding": {"x": {"datum": 225.3, "type": "quantitative", "scale": {"domain": [-0.25, 223.75], "nice": false, "zero": false, "padding": 0}},
                  "y": {"field": "v", "type": "quantitative", "scale": {"domain": [-1.4, 102.8], "nice": false, "zero": false, "padding": 0}},
                  "text": {"field": "t"}}}
  ]
}
]
}
